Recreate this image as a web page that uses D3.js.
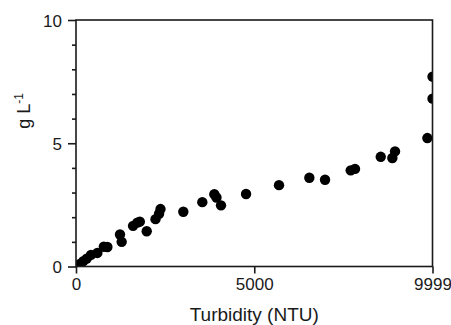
<!DOCTYPE html>
<html>
<head>
<meta charset="utf-8">
<script src="https://cdn.jsdelivr.net/npm/d3@7"></script>
<style>
  html, body { margin: 0; padding: 0; background: #fff; }
  svg { display: block; font-family: "Liberation Sans", Arial, sans-serif; }
</style>
</head>
<body>
<svg id="chart" width="451" height="325"></svg>
<script>
// Turbidity readings (NTU) and matching concentrations (g L-1)
const turbidity = [37, 112, 206, 300, 420, 600, 780, 880, 1234, 1281, 1600, 1720, 1790, 1983,
  2230, 2330, 2370, 3010, 3543, 3880, 3940, 4067, 4770, 5694, 6545, 6985, 7705, 7826,
  8547, 8873, 8948, 9855, 9999, 9999];
const concentration = [0.02, 0.10, 0.22, 0.32, 0.47, 0.55, 0.80, 0.79, 1.30, 1.00, 1.65, 1.78, 1.82, 1.43,
  1.92, 2.14, 2.33, 2.22, 2.61, 2.93, 2.80, 2.48, 2.94, 3.30, 3.60, 3.52, 3.90, 3.96,
  4.45, 4.40, 4.67, 5.21, 6.81, 7.70];
const xTicks = [0, 5000, 9999];
const yMajorTicks = [0, 5, 10];
const yMinorTicks = [1, 2, 3, 4, 6, 7, 8, 9];

const W = 451, H = 325;
const margin = { top: 20, right: 18.5, bottom: 58.5, left: 76 };
const iw = W - margin.left - margin.right;
const ih = H - margin.top - margin.bottom;
const ink = "#1a1a1a";

const svg = d3.select("#chart");
const g = svg.append("g").attr("transform", `translate(${margin.left},${margin.top})`);

const x = d3.scaleLinear().domain([0, 9999]).range([0, iw]);
const y = d3.scaleLinear().domain([0, 10]).range([ih, 0]);

g.append("clipPath").attr("id", "plot-clip")
  .append("rect").attr("width", iw).attr("height", ih);

// points
const pts = turbidity.map((t, i) => ({ t, c: concentration[i] }));
g.append("g").attr("clip-path", "url(#plot-clip)")
  .selectAll("circle").data(pts).join("circle")
  .attr("cx", d => x(d.t)).attr("cy", d => y(d.c))
  .attr("r", 5.2).attr("fill", "#000");

// frame
g.append("rect").attr("width", iw).attr("height", ih)
  .attr("fill", "none").attr("stroke", ink).attr("stroke-width", 1.6);

// x axis
const xAxis = g.append("g").attr("transform", `translate(0,${ih})`)
  .call(d3.axisBottom(x).tickValues(xTicks).tickFormat(d3.format("d")).tickSize(7).tickPadding(4));
// y axis: major and minor ticks
const yAxis = g.append("g")
  .call(d3.axisLeft(y).tickValues(yMajorTicks).tickFormat(d3.format("d")).tickSize(8).tickPadding(6));
g.append("g")
  .call(d3.axisLeft(y).tickValues(yMinorTicks).tickFormat("").tickSize(4));

g.selectAll(".domain").remove();
g.selectAll(".tick line").attr("stroke", ink).attr("stroke-width", 1.6);
g.selectAll(".tick text").attr("fill", ink).style("font-size", "17px")
  .style("font-family", "'Liberation Sans', Arial, sans-serif");
yAxis.selectAll(".tick text").attr("dy", "0.36em");

// axis titles
svg.append("text")
  .attr("x", margin.left + iw / 2).attr("y", 320.5)
  .attr("text-anchor", "middle").attr("fill", ink).style("font-size", "19px")
  .text("Turbidity (NTU)");

const yl = svg.append("text")
  .attr("transform", "translate(30,111) rotate(-90)")
  .attr("text-anchor", "middle").attr("fill", ink).style("font-size", "18px");
yl.append("tspan").text("g L");
yl.append("tspan").attr("dy", "-0.55em").style("font-size", "12px").text("-1");
</script>
</body>
</html>
